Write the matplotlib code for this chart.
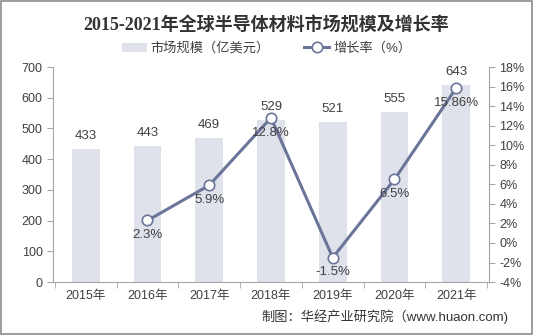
import matplotlib.pyplot as plt
import numpy as np

plt.rcParams['font.family'] = ['Liberation Sans', 'Noto Sans CJK SC', 'DejaVu Sans']

years = ['2015年', '2016年', '2017年', '2018年', '2019年', '2020年', '2021年']
market_size = [433, 443, 469, 529, 521, 555, 643]          # 亿美元
growth = [None, 2.3, 5.9, 12.8, -1.5, 6.5, 15.86]           # %
growth_labels = ['', '2.3%', '5.9%', '12.8%', '-1.5%', '6.5%', '15.86%']

bar_color = '#dfe2ea'
line_color = '#6b7499'
text_color = '#404040'
axis_color = '#a6a6a6'

fig = plt.figure(figsize=(5.33, 3.35), dpi=100)
ax = fig.add_axes([0.0994, 0.158, 0.818, 0.642])
ax2 = ax.twinx()

x = np.arange(len(years))
bars = ax.bar(x, market_size, width=0.45, color=bar_color, zorder=1,
              label='市场规模（亿美元）')
for xi, v in zip(x, market_size):
    ax.text(xi, v + 22, str(v), ha='center', va='bottom', fontsize=9.5,
            color=text_color)

gx = [xi for xi, g in zip(x, growth) if g is not None]
gy = [g for g in growth if g is not None]
line, = ax2.plot(gx, gy, color=line_color, linewidth=2.2, marker='o',
                 markersize=7.5, markerfacecolor='white',
                 markeredgecolor=line_color, markeredgewidth=1.2,
                 label='增长率（%）', zorder=3)
for xi, g, lab in zip(x, growth, growth_labels):
    if g is None:
        continue
    ax2.text(xi, g - 0.9, lab, ha='center', va='top', fontsize=9.5,
             color=text_color)

ax.set_xlim(-0.53, len(years) - 0.47)
ax.set_ylim(0, 700)
ax.set_yticks(range(0, 701, 100))
ax2.set_ylim(-4, 18)
ax2.set_yticks(range(-4, 19, 2))
ax2.set_yticklabels([f'{t}%' for t in range(-4, 19, 2)])

ax.set_xticks(x)
ax.set_xticklabels(years)
ax.set_xticks(np.arange(-0.5, len(years), 1), minor=True)
ax.tick_params(axis='x', which='major', length=0, labelsize=9,
               colors=text_color, pad=6)
ax.tick_params(axis='x', which='minor', length=4, color=axis_color,
               direction='out')
ax.tick_params(axis='y', labelsize=9, colors=text_color, length=4,
               color=axis_color)
ax2.tick_params(axis='y', labelsize=9, colors=text_color, length=4,
                color=axis_color)

for a in (ax, ax2):
    a.spines['top'].set_visible(False)
    for s in ('left', 'right', 'bottom'):
        a.spines[s].set_color(axis_color)
ax.spines['right'].set_visible(False)
ax2.spines['left'].set_visible(False)
ax2.spines['bottom'].set_visible(False)

fig.text(0.5, 0.925, '2015-2021年全球半导体材料市场规模及增长率',
         ha='center', va='center', fontsize=13, fontweight='bold',
         color='#333333', family=['Liberation Serif', 'Noto Sans CJK SC'])

fig.legend(handles=[bars, line], loc='center', bbox_to_anchor=(0.5, 0.855),
           ncol=2, frameon=False, fontsize=9.5, handlelength=1.9,
           handletextpad=0.3, columnspacing=2.6, labelcolor=text_color)

fig.text(0.953, 0.055, '制图：华经产业研究院（www.huaon.com)', ha='right',
         va='center', fontsize=9.5, color='#333333')

# 外框
fig.patches.append(plt.Rectangle((0.002, 0.003), 0.996, 0.994,
                                 transform=fig.transFigure, fill=False,
                                 edgecolor='#8c8c8c', linewidth=1.2))

fig.savefig('out.png', dpi=100)
